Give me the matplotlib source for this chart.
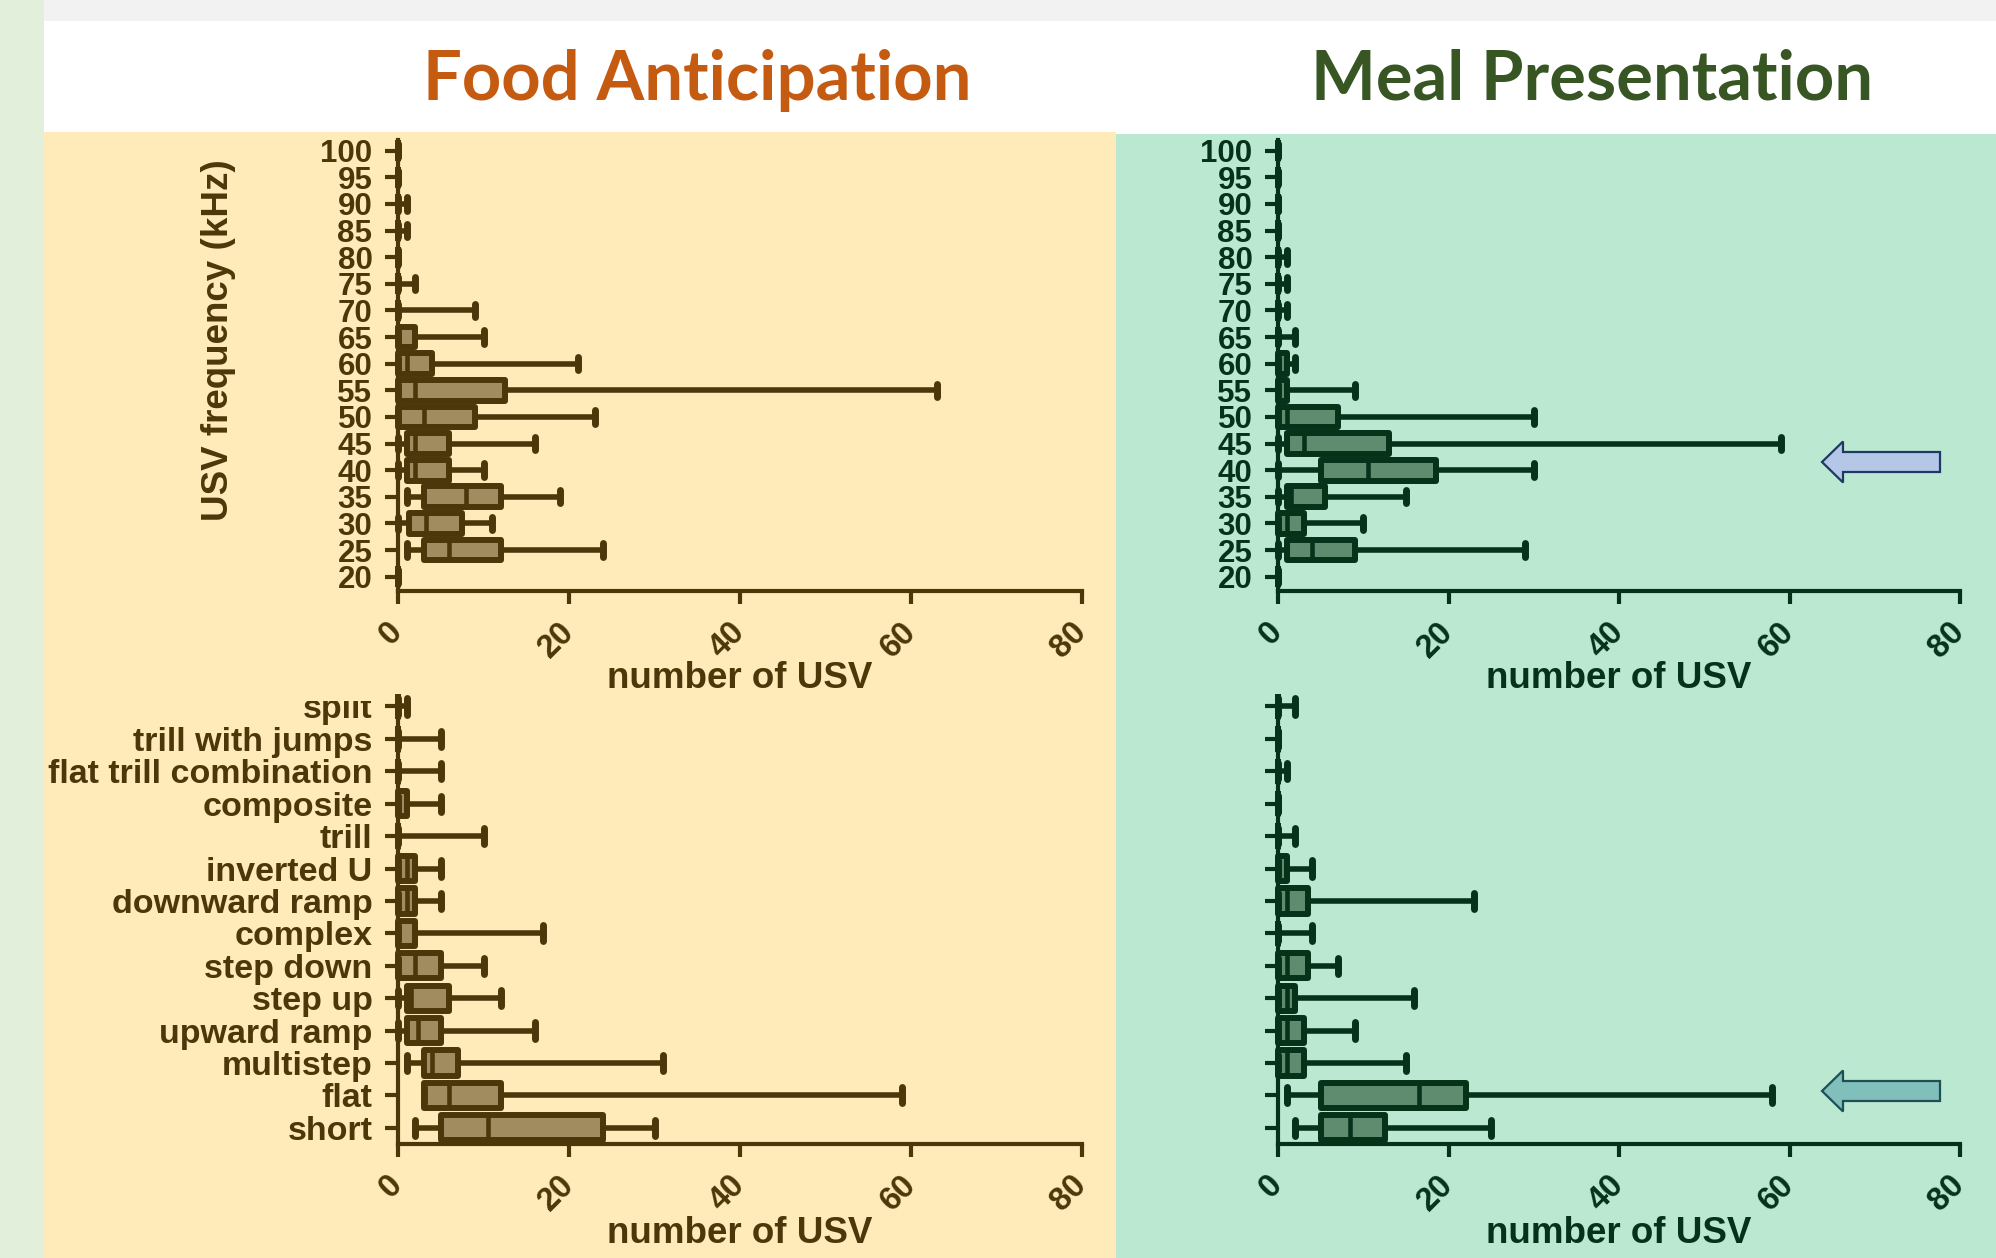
import matplotlib
matplotlib.use("Agg")
import matplotlib.pyplot as plt
from matplotlib.patches import Rectangle, FancyArrow
from matplotlib.transforms import Bbox, TransformedBbox, IdentityTransform

# -----------------------------
# Data
# -----------------------------
freq_labels = ["100", "95", "90", "85", "80", "75", "70", "65", "60",
               "55", "50", "45", "40", "35", "30", "25", "20"]

# Food anticipation, USV frequency
fa_freq_lo = [0, 0, 0, 0, 0, 0, 0, 0, 0, 0, 0, 0, 0, 1, 0, 1, 0]
fa_freq_q1 = [0, 0, 0, 0, 0, 0, 0, 0, 0, 0, 0, 1, 1, 3, 1.3, 3, 0]
fa_freq_med = [0, 0, 0, 0, 0, 0, 0, 0, 1, 2, 3, 2, 2, 8, 3.3, 6, 0]
fa_freq_q3 = [0, 0, 0, 0, 0, 0, 0, 2, 4, 12.5, 9, 6, 6, 12, 7.5, 12, 0]
fa_freq_hi = [0, 0, 1, 1, 0, 2, 9, 10, 21, 63, 23, 16, 10, 19, 11, 24, 0]

# Meal presentation, USV frequency
mp_freq_lo = [0, 0, 0, 0, 0, 0, 0, 0, 0, 0, 0, 0, 0, 0, 0, 0, 0]
mp_freq_q1 = [0, 0, 0, 0, 0, 0, 0, 0, 0, 0, 0, 1, 5, 1, 0, 1, 0]
mp_freq_med = [0, 0, 0, 0, 0, 0, 0, 0, 0, 0, 1, 3, 10.5, 1.5, 1, 4, 0]
mp_freq_q3 = [0, 0, 0, 0, 0, 0, 0, 0, 1, 1, 7, 13, 18.5, 5.5, 3, 9, 0]
mp_freq_hi = [0, 0, 0, 0, 1, 1, 1, 2, 2, 9, 30, 59, 30, 15, 10, 29, 0]

call_labels = ["split", "trill with jumps", "flat trill combination",
               "composite", "trill", "inverted U", "downward ramp",
               "complex", "step down", "step up", "upward ramp",
               "multistep", "flat", "short"]

# Food anticipation, call types
fa_call_lo = [0, 0, 0, 0, 0, 0, 0, 0, 0, 0, 0, 1, 3, 2]
fa_call_q1 = [0, 0, 0, 0, 0, 0, 0, 0, 0, 1, 1, 3, 3, 5]
fa_call_med = [0, 0, 0, 0, 0, 1, 1, 0, 2, 1.5, 2.3, 4, 6, 10.5]
fa_call_q3 = [0, 0, 0, 1, 0, 2, 2, 2, 5, 6, 5, 7, 12, 24]
fa_call_hi = [1, 5, 5, 5, 10, 5, 5, 17, 10, 12, 16, 31, 59, 30]

# Meal presentation, call types
mp_call_lo = [0, 0, 0, 0, 0, 0, 0, 0, 0, 0, 0, 0, 1, 2]
mp_call_q1 = [0, 0, 0, 0, 0, 0, 0, 0, 0, 0, 0, 0, 5, 5]
mp_call_med = [0, 0, 0, 0, 0, 0, 1, 0, 1, 1, 1, 1, 16.5, 8.5]
mp_call_q3 = [0, 0, 0, 0, 0, 1, 3.5, 0, 3.5, 2, 3, 3, 22, 12.5]
mp_call_hi = [2, 0, 1, 0, 2, 4, 23, 4, 7, 16, 9, 15, 58, 25]

x_ticks = [0, 20, 40, 60, 80]

# -----------------------------
# Style
# -----------------------------
W, H = 1996, 1258
DPI = 100

FA_INK = "#4b370a"
FA_FILL = "#a08c5f"
FA_BG = "#ffebb9"
MP_INK = "#053219"
MP_FILL = "#5f8c6e"
MP_BG = "#bbe8d1"

plt.rcParams["font.family"] = ["Liberation Sans", "DejaVu Sans"]
plt.rcParams["font.weight"] = "bold"
plt.rcParams["axes.labelweight"] = "bold"


def px_rect(fig, x0, y0, x1, y1, color):
    # rectangle given in image pixels (top-left origin)
    fig.add_artist(Rectangle((x0 / W, 1 - y1 / H), (x1 - x0) / W, (y1 - y0) / H,
                             transform=fig.transFigure, color=color,
                             lw=0, zorder=-10))


def add_axes_px(fig, x0, y0, x1, y1):
    return fig.add_axes([x0 / W, 1 - y1 / H, (x1 - x0) / W, (y1 - y0) / H])


def draw_panel(ax, labels, lo, q1, med, q3, hi, ink, fill, ylim,
               show_labels=True, label_size=22.5):
    n = len(labels)
    stats = []
    for i in range(n):
        stats.append(dict(whislo=lo[i], q1=q1[i], med=med[i], q3=q3[i],
                          whishi=hi[i], fliers=[]))
    pos = list(range(n - 1, -1, -1))

    parts = ax.bxp(
        stats,
        positions=pos,
        orientation="horizontal",
        widths=0.78,
        capwidths=0.5,
        patch_artist=True,
        showfliers=False,
        manage_ticks=False,
        boxprops=dict(facecolor=fill, edgecolor=ink, linewidth=4.3,
                      joinstyle="round"),
        medianprops=dict(color=ink, linewidth=3.3),
        whiskerprops=dict(color=ink, linewidth=4.0),
        capprops=dict(color=ink, linewidth=5, solid_capstyle="round"),
    )
    for key in parts:
        for art in parts[key]:
            art.set_clip_on(False)

    ax.set_xlim(0, 80)
    ax.set_ylim(*ylim)
    ax.set_facecolor("none")

    for side in ["top", "right"]:
        ax.spines[side].set_visible(False)
    for side in ["left", "bottom"]:
        ax.spines[side].set_linewidth(3.0)
        ax.spines[side].set_color(ink)

    ax.set_yticks(pos)
    if show_labels:
        ax.set_yticklabels(labels)
    else:
        ax.set_yticklabels([])
    ax.set_xticks(x_ticks)
    ax.set_xticklabels([str(t) for t in x_ticks])

    ax.tick_params(axis="both", direction="out", length=9.4, width=3.0,
                   color=ink, labelcolor=ink)
    ax.tick_params(axis="y", labelsize=label_size, pad=9)
    ax.tick_params(axis="x", labelsize=23.5, pad=17)
    for lbl in ax.get_xticklabels():
        lbl.set_rotation(45)
        lbl.set_ha("right")
        lbl.set_va("center")
        lbl.set_rotation_mode("anchor")

    ax.set_xlabel("number of USV", fontsize=26.5, color=ink,
                  fontweight="bold")
    ax.xaxis.label.set_va("baseline")


def main():
    fig = plt.figure(figsize=(W / DPI, H / DPI), dpi=DPI)
    fig.patch.set_facecolor("white")

    # background blocks
    px_rect(fig, 0, 0, 44, H, "#e2efda")
    px_rect(fig, 44, 0, W, 21, "#f2f2f2")
    px_rect(fig, 44, 132, 1116, H, FA_BG)
    px_rect(fig, 1116, 134, W, H, MP_BG)

    # titles
    fig.text(697 / W, 1 - 100 / H, "Food Anticipation", fontsize=49.5,
             family="Lato", weight="bold", color="#c55a11",
             ha="center", va="baseline")
    fig.text(1592 / W, 1 - 100 / H, "Meal Presentation", fontsize=49.5,
             family="Lato", weight="bold", color="#375623",
             ha="center", va="baseline")

    # frequency panels
    freq_ylim = (-0.54, len(freq_labels) - 1 + 0.4)
    ax1 = add_axes_px(fig, 398, 140, 1082, 591)
    draw_panel(ax1, freq_labels, fa_freq_lo, fa_freq_q1, fa_freq_med,
               fa_freq_q3, fa_freq_hi, FA_INK, FA_FILL, freq_ylim)
    ax1.xaxis.set_label_coords(0.5, -0.215)
    ax1.set_ylabel("USV frequency (kHz)", fontsize=26.5, color=FA_INK,
                   fontweight="bold")
    ax1.yaxis.label.set_va("center")
    ax1.yaxis.set_label_coords(-0.263, 0.557)

    ax2 = add_axes_px(fig, 1278, 140, 1960, 591)
    draw_panel(ax2, freq_labels, mp_freq_lo, mp_freq_q1, mp_freq_med,
               mp_freq_q3, mp_freq_hi, MP_INK, MP_FILL, freq_ylim)
    ax2.xaxis.set_label_coords(0.5, -0.215)

    # call type panels
    call_ylim = (-0.5, len(call_labels) - 1 + 0.2)
    ax3 = add_axes_px(fig, 398, 700, 1082, 1144)
    draw_panel(ax3, call_labels, fa_call_lo, fa_call_q1, fa_call_med,
               fa_call_q3, fa_call_hi, FA_INK, FA_FILL, call_ylim,
               label_size=24.5)
    ax3.xaxis.set_label_coords(0.5, -0.222)
    # the top label is cut by the panel crop in the original
    clip = TransformedBbox(Bbox.from_extents(0, 0, W, H - 701),
                           IdentityTransform())
    for lbl in ax3.get_yticklabels():
        lbl.set_clip_box(clip)
        lbl.set_clip_on(True)

    ax4 = add_axes_px(fig, 1278, 700, 1960, 1144)
    draw_panel(ax4, call_labels, mp_call_lo, mp_call_q1, mp_call_med,
               mp_call_q3, mp_call_hi, MP_INK, MP_FILL, call_ylim,
               show_labels=False)
    ax4.xaxis.set_label_coords(0.5, -0.222)

    # highlight arrows (inches, so the shape keeps its aspect)
    fig.add_artist(FancyArrow(19.40, (H - 462) / DPI, -1.18, 0,
                              width=0.20, head_width=0.41, head_length=0.21,
                              length_includes_head=True,
                              transform=fig.dpi_scale_trans,
                              facecolor="#b4c7e7", edgecolor="#1f3864",
                              linewidth=1.6))
    fig.add_artist(FancyArrow(19.40, (H - 1091) / DPI, -1.18, 0,
                              width=0.20, head_width=0.41, head_length=0.21,
                              length_includes_head=True,
                              transform=fig.dpi_scale_trans,
                              facecolor="#80bfba", edgecolor="#1d4f55",
                              linewidth=1.6))

    fig.savefig("out.png", dpi=DPI)
    plt.close(fig)


if __name__ == "__main__":
    main()
